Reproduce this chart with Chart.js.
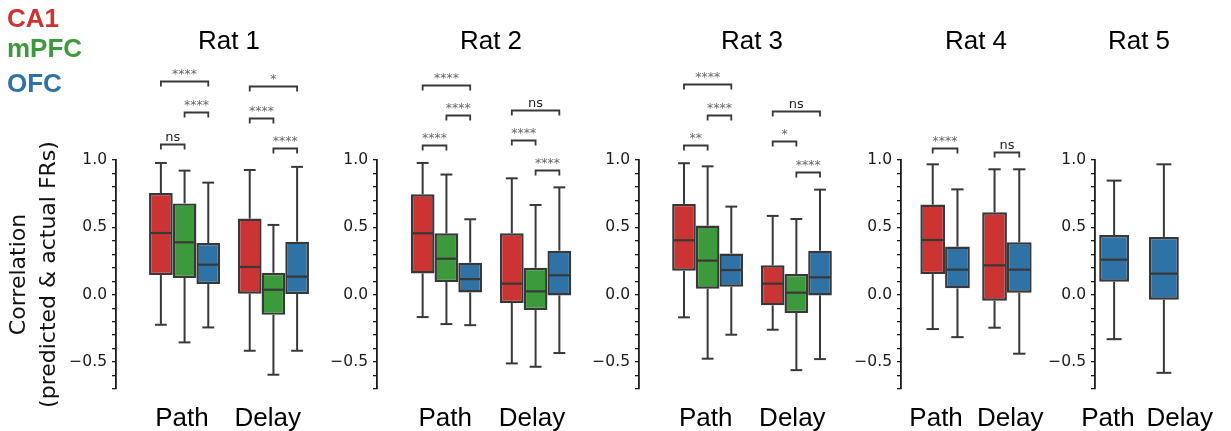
<!DOCTYPE html>
<html><head><meta charset="utf-8">
<script src="https://cdn.jsdelivr.net/npm/chart.js@4.4.1/dist/chart.umd.min.js"></script>
<style>
html,body{margin:0;padding:0;background:#fff;}
#wrap{position:relative;width:1231px;height:431px;overflow:hidden;background:#fff;}
#wrap canvas{position:absolute;top:0;}
</style></head>
<body><div id="wrap"></div>
<script>
// ---------------- data ----------------
const categories = ['Path', 'Delay'];
const regionNames = ['CA1', 'mPFC', 'OFC'];
const ratTitles = ['Rat 1', 'Rat 2', 'Rat 3', 'Rat 4', 'Rat 5'];
const yTickValues = [-0.7, -0.6, -0.5, -0.4, -0.3, -0.2, -0.1, 0.0, 0.1, 0.2, 0.3, 0.4, 0.5, 0.6, 0.7, 0.8, 0.9, 1.0];
const yLabeledTicks = [-0.5, 0.0, 0.5, 1.0];
const yTitleLines = ['Correlation', '(predicted & actual FRs)'];

// box stats per category (Path, Delay): [low whisker, Q1, median, Q3, high whisker]
const rat1CA1  = [[-0.223, 0.146, 0.458, 0.755, 0.978], [-0.416, 0.007, 0.206, 0.565, 0.926]];
const rat1mPFC = [[-0.354, 0.124, 0.389, 0.678, 0.921], [-0.594, -0.149, 0.037, 0.163, 0.518]];
const rat1OFC  = [[-0.243, 0.079, 0.223, 0.384, 0.832], [-0.416, 0.005, 0.134, 0.394, 0.949]];
const rat2CA1  = [[-0.166, 0.158, 0.456, 0.745, 0.978], [-0.510, -0.062, 0.082, 0.456, 0.864]];
const rat2mPFC = [[-0.218, 0.094, 0.267, 0.456, 0.892], [-0.535, -0.114, 0.025, 0.200, 0.666]];
const rat2OFC  = [[-0.226, 0.017, 0.116, 0.238, 0.560], [-0.433, -0.005, 0.144, 0.327, 0.797]];
const rat3CA1  = [[-0.168, 0.178, 0.404, 0.674, 0.976], [-0.260, -0.079, 0.082, 0.218, 0.585]];
const rat3mPFC = [[-0.475, 0.045, 0.253, 0.513, 0.953], [-0.560, -0.136, 0.015, 0.154, 0.562]];
const rat3OFC  = [[-0.297, 0.059, 0.183, 0.305, 0.654], [-0.478, -0.005, 0.129, 0.327, 0.780]];
const rat4CA1  = [[-0.255, 0.153, 0.406, 0.669, 0.968], [-0.245, -0.045, 0.218, 0.612, 0.931]];
const rat4OFC  = [[-0.315, 0.047, 0.186, 0.357, 0.782], [-0.438, 0.015, 0.186, 0.389, 0.931]];
const rat5OFC  = [[-0.330, 0.097, 0.260, 0.443, 0.847], [-0.580, -0.037, 0.156, 0.429, 0.968]];

// significance brackets: [category index, group A, group B, bracket height, label]
const rat1Sig = [[0, 'CA1', 'mPFC', 1.120, 'ns'], [0, 'mPFC', 'OFC', 1.354, '****'], [0, 'CA1', 'OFC', 1.585, '****'],
                 [1, 'mPFC', 'OFC', 1.087, '****'], [1, 'CA1', 'mPFC', 1.315, '****'], [1, 'CA1', 'OFC', 1.548, '*']];
const rat2Sig = [[0, 'CA1', 'mPFC', 1.112, '****'], [0, 'mPFC', 'OFC', 1.332, '****'], [0, 'CA1', 'OFC', 1.560, '****'],
                 [1, 'mPFC', 'OFC', 0.926, '****'], [1, 'CA1', 'mPFC', 1.152, '****'], [1, 'CA1', 'OFC', 1.374, 'ns']];
const rat3Sig = [[0, 'CA1', 'mPFC', 1.109, '**'], [0, 'mPFC', 'OFC', 1.332, '****'], [0, 'CA1', 'OFC', 1.562, '****'],
                 [1, 'mPFC', 'OFC', 0.914, '****'], [1, 'CA1', 'mPFC', 1.142, '*'], [1, 'CA1', 'OFC', 1.367, 'ns']];
const rat4Sig = [[0, 'CA1', 'OFC', 1.090, '****'], [1, 'CA1', 'OFC', 1.060, 'ns']];
const rat5Sig = [];

// ---------------- styles / layout ----------------
const regionColors = { CA1: '#cc3434', mPFC: '#3c993c', OFC: '#2f72a6' };
const lineColor = '#383838';
const axisColor = '#1a1a1a';
const panels = [
  { title: ratTitles[0], groups: { CA1: rat1CA1, mPFC: rat1mPFC, OFC: rat1OFC }, sig: rat1Sig,
    lay: { spine: 116, c0: 184.7, step: 89, frac: 0.8, axisW: 116, yTitle: true, legend: true, shift: [-2.7, -5.7] } },
  { title: ratTitles[1], groups: { CA1: rat2CA1, mPFC: rat2mPFC, OFC: rat2OFC }, sig: rat2Sig,
    lay: { spine: 377, c0: 446.3, step: 89, frac: 0.8, axisW: 60, shift: [-1.3, -3.6] } },
  { title: ratTitles[2], groups: { CA1: rat3CA1, mPFC: rat3mPFC, OFC: rat3OFC }, sig: rat3Sig,
    lay: { spine: 639, c0: 707.7, step: 88.8, frac: 0.8, axisW: 60, shift: [-2, -4] } },
  { title: ratTitles[3], groups: { CA1: rat4CA1, OFC: rat4OFC }, sig: rat4Sig,
    lay: { spine: 901, c0: 945, step: 61.7, frac: 0.8, axisW: 60, shift: [-9, 3.3] } },
  { title: ratTitles[4], groups: { OFC: rat5OFC }, sig: rat5Sig,
    lay: { spine: 1095, c0: 1114.2, step: 50, frac: 0.6, axisW: 60, shift: [-6.2, 15.8] } }
];

Chart.defaults.font.family = '"DejaVu Sans", sans-serif';

function seg(ctx, x1, y1, x2, y2) { ctx.beginPath(); ctx.moveTo(x1, y1); ctx.lineTo(x2, y2); ctx.stroke(); }

const boxPlugin = {
  id: 'boxExtras',
  beforeDatasetsDraw(chart) {
    const ctx = chart.ctx, ys = chart.scales.y;
    ctx.save();
    ctx.strokeStyle = lineColor; ctx.lineWidth = 2;
    chart.data.datasets.forEach((ds, di) => {
      chart.getDatasetMeta(di).data.forEach((bar, i) => {
        const s = ds.stats[i], x = bar.x, hw = bar.width / 4;
        seg(ctx, x, ys.getPixelForValue(s[3]), x, ys.getPixelForValue(s[4]));
        seg(ctx, x, ys.getPixelForValue(s[1]), x, ys.getPixelForValue(s[0]));
        seg(ctx, x - hw, ys.getPixelForValue(s[4]), x + hw, ys.getPixelForValue(s[4]));
        seg(ctx, x - hw, ys.getPixelForValue(s[0]), x + hw, ys.getPixelForValue(s[0]));
      });
    });
    ctx.restore();
  },
  afterDatasetsDraw(chart, args, opts) {
    const ctx = chart.ctx, ys = chart.scales.y;
    ctx.save();
    ctx.strokeStyle = lineColor; ctx.lineWidth = 2.2;
    chart.data.datasets.forEach((ds, di) => {
      chart.getDatasetMeta(di).data.forEach((bar, i) => {
        const s = ds.stats[i], hw = bar.width / 2 - 1;
        seg(ctx, bar.x - hw, ys.getPixelForValue(s[2]), bar.x + hw, ys.getPixelForValue(s[2]));
      });
    });
    // significance brackets
    const names = chart.data.datasets.map(d => d.label);
    ctx.lineWidth = 1.8;
    ctx.textAlign = 'center';
    ctx.textBaseline = 'alphabetic';
    (opts.sig || []).forEach(([cat, a, b, h, label]) => {
      const xa = chart.getDatasetMeta(names.indexOf(a)).data[cat].x;
      const xb = chart.getDatasetMeta(names.indexOf(b)).data[cat].x;
      const yp = Math.round(ys.getPixelForValue(h)) + 0.5;
      ctx.beginPath();
      ctx.moveTo(xa, yp + 5); ctx.lineTo(xa, yp); ctx.lineTo(xb, yp); ctx.lineTo(xb, yp + 5);
      ctx.stroke();
      if (label === 'ns') { ctx.font = '13px "DejaVu Sans"'; ctx.fillStyle = '#222'; }
      else { ctx.font = '12.5px "DejaVu Sans"'; ctx.fillStyle = '#666'; }
      ctx.fillText(label, (xa + xb) / 2, yp - 4);
    });
    ctx.restore();
  }
};

const legendPlugin = {
  id: 'regionLegend',
  afterDraw(chart, args, opts) {
    if (!opts.show) return;
    const ctx = chart.ctx;
    ctx.save();
    ctx.font = 'bold 26px "Liberation Sans", Arial, sans-serif';
    ctx.textAlign = 'left'; ctx.textBaseline = 'alphabetic';
    const baselines = [27, 57, 92];
    regionNames.forEach((n, i) => { ctx.fillStyle = regionColors[n]; ctx.fillText(n, 7, baselines[i]); });
    ctx.restore();
  }
};

const shiftPlugin = {
  id: 'labelShift',
  afterLayout(chart, args, opts) {
    const items = chart.scales.x.getLabelItems();
    items.forEach((it, i) => { it.options.translation[0] += (opts.shift && opts.shift[i]) || 0; });
  }
};

const wrap = document.getElementById('wrap');
panels.forEach(p => {
  const L = p.lay;
  const xmin = -(L.c0 - L.spine) / L.step, xmax = 1 - xmin;
  const padR = 40;
  const areaW = (xmax - xmin) * L.step;
  const W = Math.round(L.axisW + areaW + padR);
  const cv = document.createElement('canvas');
  cv.width = W; cv.height = 431;
  cv.style.left = (L.spine - L.axisW) + 'px';
  cv.style.width = W + 'px'; cv.style.height = '431px';
  wrap.appendChild(cv);
  const names = Object.keys(p.groups);
  const datasets = names.map(n => ({
    label: n,
    data: p.groups[n].map((s, i) => ({ x: i, y: [s[1], s[3]] })),
    stats: p.groups[n],
    backgroundColor: regionColors[n],
    borderColor: lineColor,
    borderWidth: 2.4,
    borderSkipped: false,
    categoryPercentage: L.frac,
    barPercentage: 1
  }));
  new Chart(cv, {
    type: 'bar',
    data: { datasets },
    options: {
      responsive: false, animation: false, events: [],
      devicePixelRatio: 1,
      layout: { padding: { left: 0, right: padR, top: 0, bottom: 0 } },
      plugins: {
        legend: { display: false }, tooltip: { enabled: false },
        title: { display: true, text: p.title, fullSize: false, color: '#000',
                 font: { family: '"Liberation Sans", Arial, sans-serif', size: 26, weight: 'normal' },
                 padding: { top: 26, bottom: 102.8 } },
        boxExtras: { sig: p.sig },
        regionLegend: { show: !!L.legend },
        labelShift: { shift: L.shift }
      },
      scales: {
        x: {
          type: 'linear', min: xmin, max: xmax, offset: false,
          grid: { display: false }, border: { display: false },
          afterBuildTicks: s => { s.ticks = categories.map((c, i) => ({ value: i })); },
          afterFit: s => { s.height = 42; },
          ticks: { autoSkip: false, maxRotation: 0, padding: 6, color: '#000',
                   font: { family: '"Liberation Sans", Arial, sans-serif', size: 26 },
                   callback: (v, i) => categories[i] }
        },
        y: {
          type: 'linear', min: -0.7, max: 1.0,
          afterBuildTicks: s => { s.ticks = yTickValues.map(v => ({ value: v })); },
          afterFit: s => { s.width = L.axisW; },
          grid: { display: true, drawOnChartArea: false, drawTicks: true, tickLength: 4, color: axisColor, lineWidth: 1.3 },
          border: { display: true, color: axisColor, width: 1.8 },
          ticks: { autoSkip: false, padding: 5, color: '#1a1a1a', font: { family: '"DejaVu Sans"', size: 15.5 },
                   callback: v => yLabeledTicks.some(t => Math.abs(t - v) < 1e-9) ? (v < -1e-9 ? '\u2212' : '') + Math.abs(v).toFixed(1) : '' },
          title: { display: !!L.yTitle, text: yTitleLines, color: '#111',
                   font: { family: '"DejaVu Sans"', size: 22, lineHeight: 1.36 }, padding: { top: 4, bottom: 0 } }
        }
      }
    },
    plugins: [boxPlugin, legendPlugin, shiftPlugin]
  });
});
</script>
</body></html>
